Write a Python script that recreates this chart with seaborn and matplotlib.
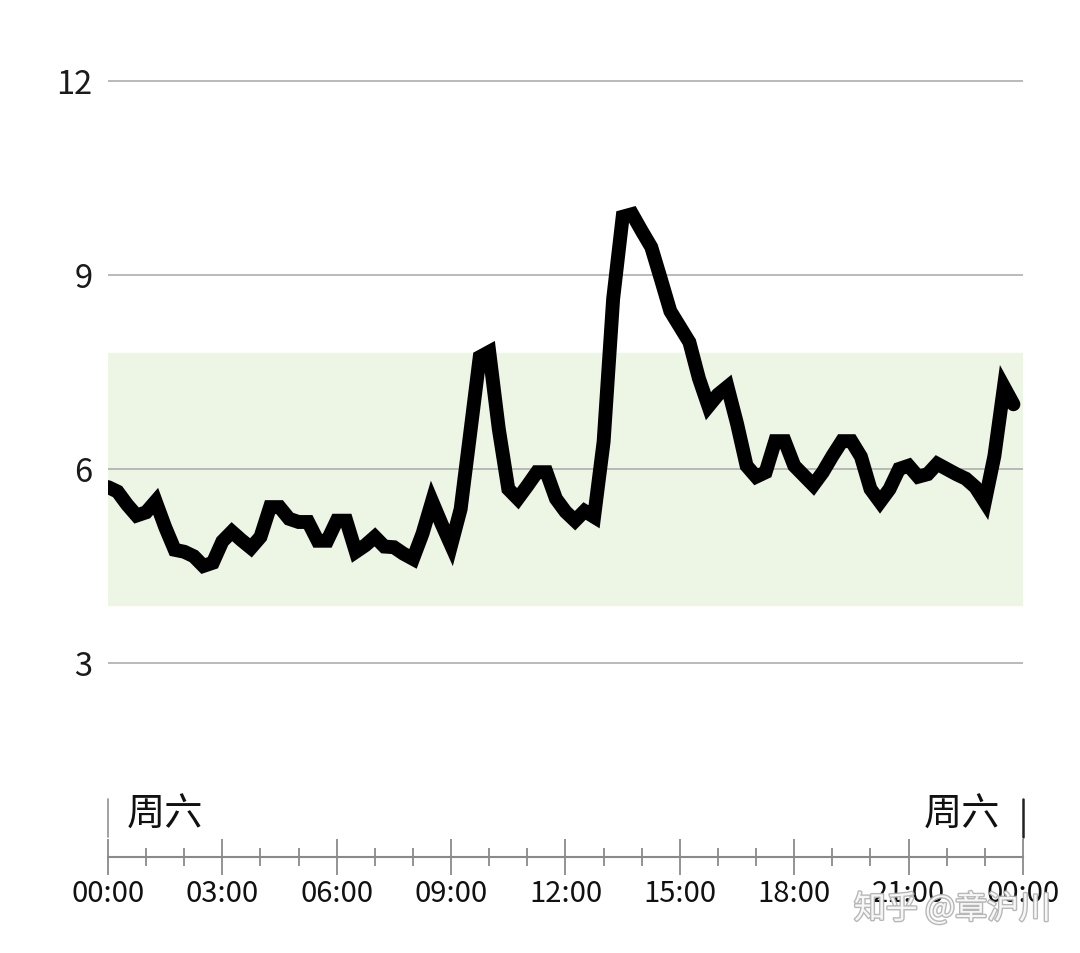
import numpy as np
import pandas as pd
import seaborn as sns
import matplotlib
matplotlib.use("Agg")
import matplotlib.pyplot as plt
import matplotlib.patheffects as pe

# glucose readings every 15 minutes (mmol/L), Saturday 00:00 - 23:45
glucose = [5.72, 5.65, 5.45, 5.28, 5.33, 5.5, 5.1, 4.75, 4.72, 4.65, 4.5, 4.55,
           4.88, 5.03, 4.9, 4.78, 4.95, 5.41, 5.41, 5.23, 5.18, 5.18, 4.89, 4.89,
           5.2, 5.2, 4.72, 4.82, 4.95, 4.8, 4.79, 4.69, 4.61, 5.0, 5.5, 5.15,
           4.82, 5.38, 6.55, 7.73, 7.81, 6.62, 5.69, 5.54, 5.74, 5.95, 5.95, 5.54,
           5.34, 5.2, 5.35, 5.26, 6.42, 8.63, 9.9, 9.94, 9.68, 9.43, 8.94, 8.44,
           8.2, 7.96, 7.4, 6.97, 7.15, 7.27, 6.7, 6.05, 5.88, 5.95, 6.43, 6.43,
           6.05, 5.9, 5.75, 5.95, 6.2, 6.43, 6.43, 6.19, 5.69, 5.49, 5.69, 6.0,
           6.05, 5.88, 5.92, 6.08, 6.0, 5.92, 5.85, 5.72, 5.49, 6.2, 7.27, 7.0]
hours = [i * 0.25 for i in range(len(glucose))]

target_low, target_high = 3.9, 7.8
y_ticks = [3, 6, 9, 12]
x_ticks = [0, 3, 6, 9, 12, 15, 18, 21, 24]
x_labels = ["00:00", "03:00", "06:00", "09:00", "12:00", "15:00", "18:00", "21:00", "00:00"]
day_label = "周六"
watermark = "知乎 @章沪川"

df = pd.DataFrame({"hour": hours, "glucose": glucose})

sns.set_style("white")
plt.rcParams['font.family'] = ['Noto Sans CJK SC', 'DejaVu Sans']

fig = plt.figure(figsize=(10.8, 9.54), dpi=100)

# main plot
ax = fig.add_axes([0.1, 0.2362, 0.8472, 0.6915])
ax.axhspan(target_low, target_high, color="#edf5e5", zorder=0)
for y in y_ticks:
    ax.axhline(y, color="#b4b4b4", lw=1.3, zorder=1)
sns.lineplot(data=df, x="hour", y="glucose", color="black", lw=10, ax=ax,
             solid_capstyle="round", solid_joinstyle="miter", zorder=3)
ax.set_xlim(0, 24)
ax.set_ylim(2, 12.2)
ax.set_yticks(y_ticks)
ax.set_yticklabels([str(y) for y in y_ticks], fontsize=23.5, color="#1a1a1a")
ax.tick_params(axis="y", length=0, pad=11)
ax.set_xticks([])
ax.set_xlabel("")
ax.set_ylabel("")
for s in ax.spines.values():
    s.set_visible(False)

# time axis
ax2 = fig.add_axes([0.1, 0.1006, 0.8472, 0.066])
ax2.set_xlim(0, 24)
ax2.set_ylim(0, 1)
ax2.set_yticks([])
ax2.set_xticks(x_ticks)
ax2.set_xticks(range(25), minor=True)
ax2.set_xticklabels(x_labels, fontsize=21, color="#111111")
ax2.tick_params(axis="x", which="both", bottom=True)
ax2.tick_params(axis="x", which="major", direction="inout", length=26, width=1.3,
                color="#8a8a8a", pad=2)
ax2.tick_params(axis="x", which="minor", direction="inout", length=13, width=1.3,
                color="#8a8a8a")
for k, s in ax2.spines.items():
    s.set_visible(k == "bottom")
ax2.spines["bottom"].set_color("#8a8a8a")
ax2.spines["bottom"].set_linewidth(1.5)
ax2.set_facecolor("none")
ax2.axvline(0, ymin=0.32, ymax=0.92, color="#9a9a9a", lw=1.3, clip_on=False)
ax2.axvline(24, ymin=0.32, ymax=0.92, color="#222222", lw=1.8, clip_on=False)
ax2.text(0.5, 0.68, day_label, fontsize=27.5, ha="left", va="center", color="#111111")
ax2.text(23.4, 0.68, day_label, fontsize=27.5, ha="right", va="center", color="#111111")

# watermark (overlaps the last tick labels, as in the source image)
fig.text(0.882, 0.046, watermark, fontsize=23, ha="center", va="center", color="white",
         path_effects=[pe.withStroke(linewidth=2, foreground="#b0b0b0")], alpha=0.9)

fig.savefig("out.png", dpi=100)
